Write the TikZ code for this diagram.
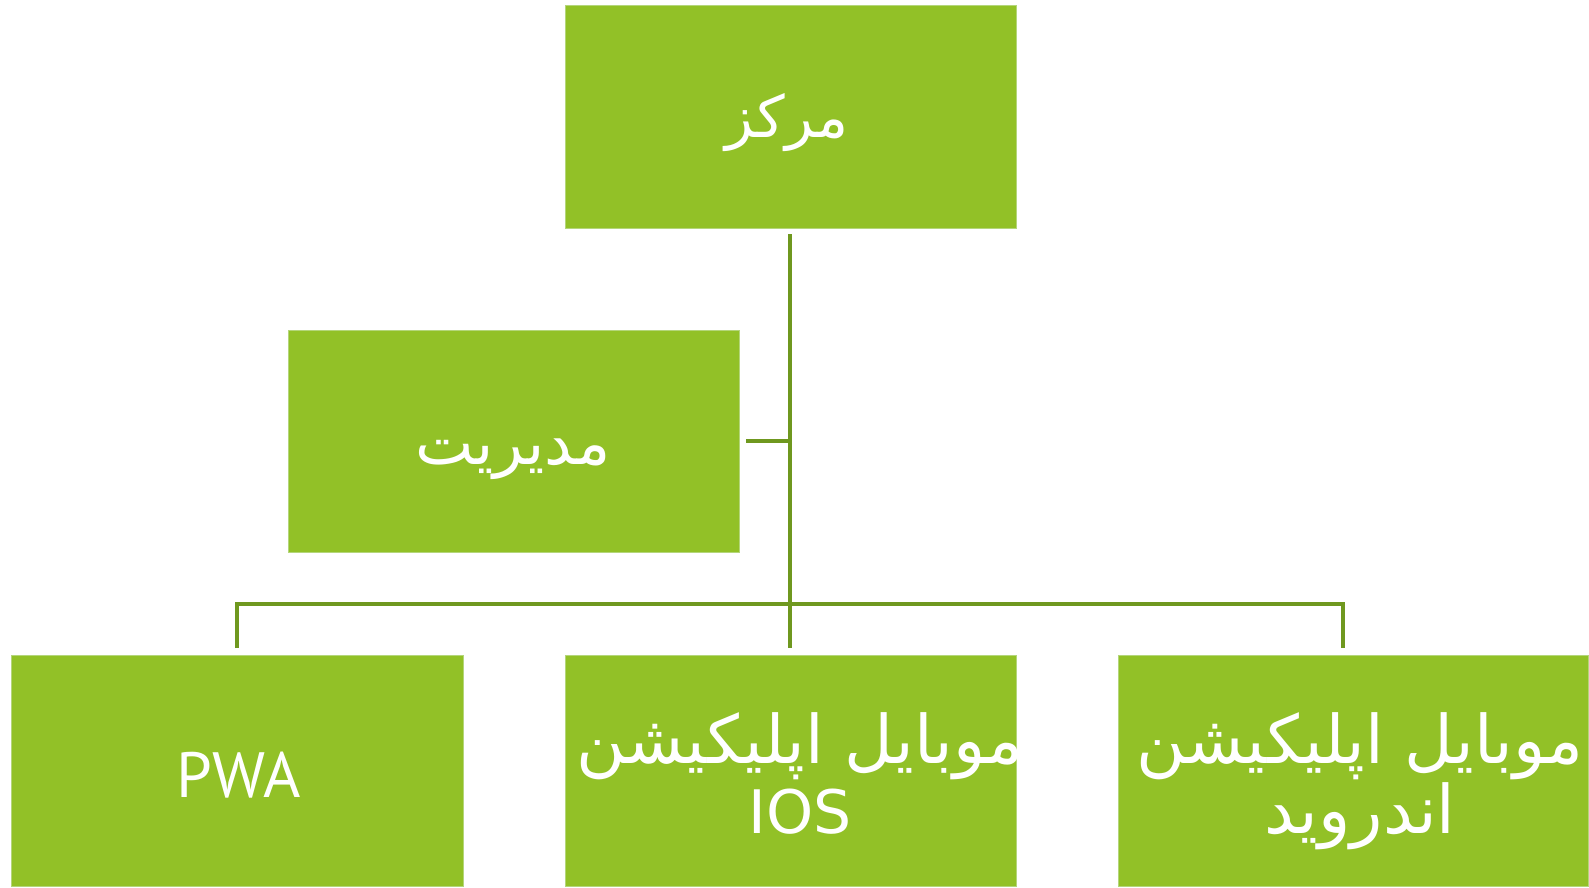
\documentclass[tikz,border=0pt]{standalone}
\usepackage{fontspec}
\newfontfamily\arabicfont[Script=Arabic]{DejaVu Sans}
\newfontfamily\latinfont{PT Sans}
\TeXXeTstate=1
\lineskiplimit=-1000pt
\definecolor{boxgreen}{HTML}{92C127}
\definecolor{boxedge}{HTML}{B4D67A}
\definecolor{linegreen}{HTML}{6F981F}
\tikzset{
  greenbox/.style={rectangle, fill=boxgreen, draw=boxedge, line width=1pt, inner sep=0pt, outer sep=0pt},
  boxtext/.style={text=white, align=center, inner sep=0pt, anchor=base, font=\arabicfont\fontsize{67}{70}\selectfont},
  conn/.style={draw=linegreen, line width=3.5pt},
}
\begin{document}
\begin{tikzpicture}[x=1pt,y=-1pt]
\useasboundingbox (0,0) rectangle (1589,887);
% boxes
\node[greenbox, minimum width=451pt, minimum height=223pt] (top) at (790.5,116.5) {};
\node[greenbox, minimum width=451pt, minimum height=222pt] (mgmt) at (513.5,441) {};
\node[greenbox, minimum width=452pt, minimum height=231.5pt, anchor=north] (pwa) at (237,655) {};
\node[greenbox, minimum width=451pt, minimum height=231.5pt, anchor=north] (ios) at (790.5,655) {};
\node[greenbox, minimum width=470.5pt, minimum height=231.5pt, anchor=north west] (android) at (1118,655) {};
% texts
\node[boxtext, font=\arabicfont\fontsize{58}{70}\selectfont] (toptext) at (787,137) {\beginR مرکز\endR};
\node[boxtext, font=\arabicfont\fontsize{62}{70}\selectfont] (mgmttext) at (513,464) {\beginR مدیریت\endR};
\node[boxtext, font=\latinfont\fontsize{64}{70}\selectfont] (pwatext) at (239,797) {PWA};
\node[boxtext] (iostext) at (800,833) {\beginR موبایل اپلیکیشن\endR\\{\fontsize{60}{70}\selectfont IOS}};
\node[boxtext] (androidtext) at (1360,833) {\beginR موبایل اپلیکیشن\endR\\\beginR اندروید\endR};
% connectors
\coordinate (bus) at (790,604);
\coordinate (pwatop) at (237,648);
\coordinate (androidtop) at (1343,648);
\coordinate (iostop) at (790,648);
\coordinate (trunktop) at (790,234);
\coordinate (mgmtjoin) at (790,441);
\coordinate (mgmtright) at (746,441);
\draw[conn] (trunktop) -- (iostop);
\draw[conn] (mgmtright) -- (mgmtjoin);
\draw[conn] (pwatop) |- (bus) -| (androidtop);
\end{tikzpicture}
\end{document}
